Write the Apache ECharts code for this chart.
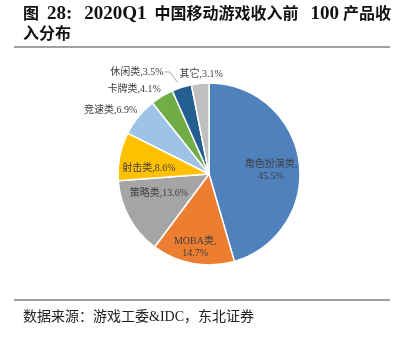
<!DOCTYPE html>
<html><head><meta charset="utf-8">
<script src="https://cdn.jsdelivr.net/npm/echarts@6/dist/echarts.min.js"></script>
<style>html,body{margin:0;padding:0;background:#fff}#c{width:404px;height:337px}</style>
</head><body><div id="c"></div>
<script>
var categories = ['角色扮演类', 'MOBA类', '策略类', '射击类', '竞速类', '卡牌类', '休闲类', '其它'];
var values = [45.5, 14.7, 13.6, 8.6, 6.9, 4.1, 3.5, 3.1];
var colors = ['#4F81BD', '#ED7D31', '#A5A5A5', '#FFC000', '#9DC3E6', '#70AD47', '#255E91', '#BFBFBF'];
var insideFlags = [true, true, true, true, false, false, false, false];
var sourceText = '数据来源：游戏工委&IDC，东北证券';

var chart = echarts.init(document.getElementById('c'));
var cx = 209, cy = 174, R = 91;
// label styling tweaks (not data)
var pushFactor = [1.25, 1.6, 1.2, 1.2, 1, 1, 1, 1];
var labelNudge = [[2, 5], [0, -3], [1, -9], [-3, 6], [7, -4], [6, -3], [-1, 1], [28, -5]];
var guideIndex = 6; // 休闲类 has a leader line

var total = values.reduce(function(a, b){ return a + b; }, 0);
function midAngle(i){
  var before = 0;
  for (var j = 0; j < i; j++) before += values[j];
  return (before + values[i] / 2) / total * Math.PI * 2; // clockwise from top
}

var data = categories.map(function(n, i){
  var inside = insideFlags[i];
  var g = (i === guideIndex);
  return {
    name: n, value: values[i],
    itemStyle: {color: colors[i]},
    label: {
      position: inside ? 'inside' : 'outside',
      formatter: (i < 2 ? '{b},\n{c}%' : '{b},{c}%')
    },
    labelLine: {show: g, length: g ? 17 : 4, length2: g ? 7 : 0,
      lineStyle: {color: '#A6A6A6', width: 1}}
  };
});

var serif = 'Liberation Serif, Noto Sans CJK SC';
chart.setOption({
  animation: false,
  title: [
    {text: '图  {l|28:}   {l|2020Q1}  中国移动游戏收入前   {l|100} 产品收', left: 18, top: 0,
     textStyle: {fontFamily: serif, fontSize: 16, fontWeight: 'bold', color: '#111',
       rich: {l: {fontFamily: serif, fontSize: 19, fontWeight: 'bold', color: '#111'}}}},
    {text: '入分布', left: 18, top: 22, textStyle: {fontFamily: serif, fontSize: 16, fontWeight: 'bold', color: '#111'}},
    {text: sourceText, left: 18, top: 305, textStyle: {fontFamily: serif, fontSize: 14, fontWeight: 'normal', color: '#222'}}
  ],
  graphic: [
    {type: 'line', shape: {x1: 14, y1: 47, x2: 390, y2: 47}, style: {stroke: '#808080', lineWidth: 1.5}},
    {type: 'line', shape: {x1: 14, y1: 300, x2: 390, y2: 300}, style: {stroke: '#808080', lineWidth: 1.5}}
  ],
  series: [{
    type: 'pie',
    center: [cx, cy],
    radius: [0, R],
    startAngle: 90,
    clockwise: true,
    avoidLabelOverlap: false,
    itemStyle: {borderColor: '#fff', borderWidth: 1.5},
    label: {color: '#404040', fontSize: 10, fontFamily: serif, lineHeight: 12},
    labelLayout: function(p){
      var i = p.dataIndex;
      var nd = labelNudge[i];
      var r = p.labelRect;
      if (i === guideIndex) {
        var a = midAngle(i);
        var ex = cx + (R + 1) * Math.sin(a), ey = cy - (R + 1) * Math.cos(a);
        var right = r.x + r.width + nd[0], midY = r.y + r.height / 2 + nd[1];
        return {dx: nd[0], dy: nd[1],
          labelLinePoints: [[ex - 4, ey - 4], [right + 6, midY], [right + 1, midY]]};
      }
      if (!insideFlags[i]) return {dx: nd[0], dy: nd[1]};
      var lx = r.x + r.width / 2, ly = r.y + r.height / 2;
      var k = pushFactor[i] - 1;
      return {dx: (lx - cx) * k + nd[0], dy: (ly - cy) * k + nd[1]};
    },
    data: data
  }]
});
</script></body></html>
